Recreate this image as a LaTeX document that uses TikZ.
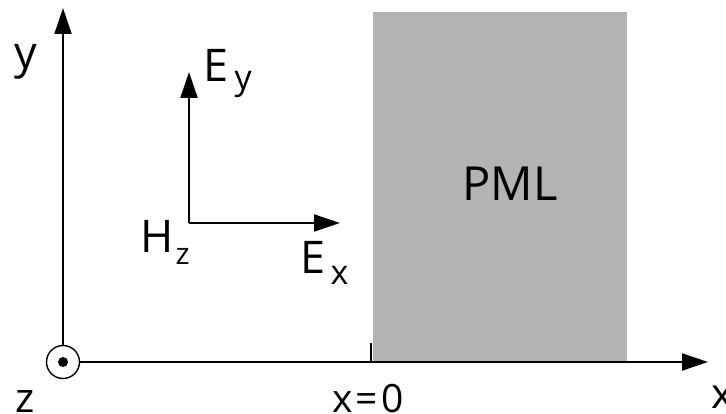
\documentclass[tikz,border=0pt]{standalone}
\usepackage{fontspec}
\setmainfont{Open Sans}
\usetikzlibrary{arrows.meta}
\definecolor{pmlgray}{HTML}{B3B3B3}
\newcommand{\fs}[1]{\fontsize{#1}{#1}\selectfont}
\tikzset{
  axisline/.style={line width=2pt, -{Triangle[length=26pt,width=17pt]}},
  lbl/.style={inner sep=0pt, outer sep=0pt, anchor=base west, font=\fs{45}},
  botlbl/.style={inner sep=0pt, outer sep=0pt, anchor=base west, font=\fs{39}},
}
\begin{document}
\begin{tikzpicture}[x=1pt,y=-1pt]
\useasboundingbox (0,0) rectangle (726,414);
% PML region
\node[fill=pmlgray, minimum width=254pt, minimum height=349pt, anchor=north west, inner sep=0pt, outer sep=0pt] (pml) at (373,12) {};
\node[inner sep=0pt, anchor=base, font=\fs{47}] (pmltext) at (510,201) {PML};
% origin symbol
\node[circle, draw, line width=1.4pt, minimum size=33pt, inner sep=0pt] (o) at (63,362) {};
\node[circle, fill, minimum size=10pt, inner sep=0pt] (dot) at (o.center) {};
% axes
\coordinate (ytip) at (63,8);
\coordinate (xtip) at (708,362);
\draw[axisline] (o.north) -- (ytip);
\draw[axisline] (o.east) -- (xtip);
% tick at x=0
\coordinate (tickbot) at (371,362);
\coordinate (ticktop) at (371,343);
\draw[line width=1.5pt] (tickbot) -- (ticktop);
% field vectors
\coordinate (c) at (189,223);
\coordinate (eytip) at (189,72);
\coordinate (extip) at (340,223);
\draw[axisline] (c) -- (eytip);
\draw[axisline] (c) -- (extip);
% labels
\node[lbl] (ey) at (203.5,82) {E\hspace{6pt}\raisebox{-8pt}{\fs{34}y}};
\node[lbl] (hz) at (140.5,253) {H\hspace{2pt}\raisebox{-12pt}{\fs{30}z}};
\node[lbl] (ex) at (300.5,274) {E\hspace{5pt}\raisebox{-11pt}{\fs{34}x}};
\node[lbl] (ylab) at (14,69) {y};
\node[botlbl, font=\fs{41}] (zlab) at (16,412) {z};
\node[botlbl, anchor=base] (x0lab) at (368,412) {x\hspace{3pt}=\hspace{3pt}0};
\node[botlbl, font=\fs{42}] (xlab) at (711,408) {x};
\end{tikzpicture}
\end{document}
